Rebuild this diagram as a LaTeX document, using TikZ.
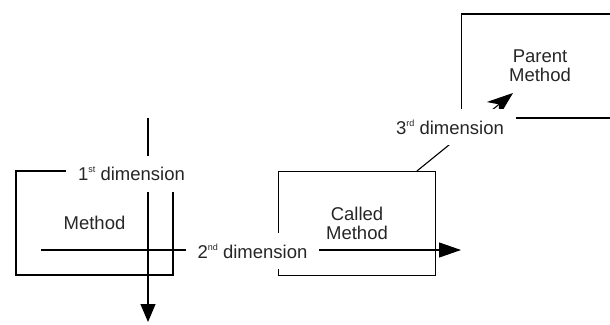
\documentclass[tikz,border=0pt]{standalone}
\usepackage{fontspec}
\setmainfont{Liberation Sans}
\usetikzlibrary{arrows.meta}
\newcommand{\sups}[1]{\raisebox{0.8ex}{\fontsize{9}{9}\selectfont #1}}
\begin{document}
\begin{tikzpicture}[x=1pt,y=-1pt,
  every node/.style={font=\fontsize{18.5}{21}\selectfont, text=black!85},
  methodbox/.style={draw, line width=1.1pt, minimum width=157pt, minimum height=104pt, align=center, inner sep=0pt},
  dimlabel/.style={fill=white, inner xsep=12pt, inner ysep=0pt, minimum height=36pt},
  dimline/.style={line width=1.1pt}
]
\useasboundingbox (0,0) rectangle (610,324);
\clip (0,0) rectangle (610,324);
% boxes
\node[methodbox] (m) at (94.5,223) {Method};
\node[methodbox] (c) at (357,223.5) {Called\\[-2pt]Method};
\node[methodbox] (p) at (540,66) {Parent\\[-2pt]Method};
% dimension lines
\coordinate (d1s) at (148,118);
\coordinate (d1e) at (148,322);
\coordinate (d2s) at (41,250);
\coordinate (d2e) at (461,250);
\coordinate (d3s) at (c.north -| 417,0);
\coordinate (d3e) at (513,93);
\draw[dimline, -{Triangle[length=18pt,width=15pt]}] (d1s) -- (d1e);
\draw[dimline, -{Triangle[length=22pt,width=15pt]}] (d2s) -- (d2e);
\draw[dimline, -{Stealth[length=26pt,width=19pt,inset=8pt]}] (d3s) -- (d3e);
% labels
\node[dimlabel] (l1) at (131.5,174) {1\sups{st} dimension};
\node[dimlabel] (l2) at (252.5,251) {2\sups{nd} dimension};
\node[dimlabel] (l3) at (450,127) {3\sups{rd} dimension};
\end{tikzpicture}
\end{document}
